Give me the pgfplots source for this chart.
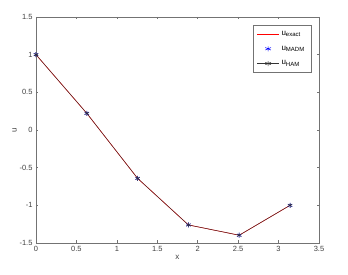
\documentclass[border=0pt]{standalone}
\usepackage{pgfplots}
\pgfplotsset{compat=1.18}
\usepackage{fontspec}
\setmainfont{Liberation Sans}
\definecolor{axgray}{gray}{0.45}
\begin{document}
\begin{tikzpicture}
\path[use as bounding box] (-36pt,-32pt) rectangle (312pt,243pt);
\begin{axis}[
  at={(0pt,0pt)}, anchor=south west,
  scale only axis, width=283pt, height=226pt,
  xmin=0, xmax=3.5, ymin=-1.5, ymax=1.5,
  xtick={0,0.5,...,3.5}, ytick={-1.5,-1,...,1.5},
  tick align=inside, tick pos=both,
  major tick length=2.5pt,
  axis line style={axgray, line width=0.5pt},
  every tick/.style={axgray, line width=0.5pt},
  tick label style={font=\fontsize{7.5}{8}\selectfont, text=black!75},
  /pgf/number format/assume math mode=true,
  yticklabel style={/pgf/number format/fixed},
  xlabel={x}, ylabel={u},
  label style={font=\fontsize{8}{9}\selectfont, text=black!75},
  xlabel style={yshift=3pt},
  ylabel style={yshift=-4pt},
  legend style={at={(1-8/283,1-8/226)}, anchor=north east, draw=axgray,
    font=\fontsize{8}{9}\selectfont, cells={anchor=west}, row sep=5pt,
    inner xsep=4pt, inner ysep=4pt},
  legend image post style={xscale=1.3},
  legend cell align=left,
]
\addplot[red, line width=0.6pt] coordinates {
 (0,1) (0.6283,0.2212) (1.2566,-0.6420) (1.8850,-1.2601) (2.5133,-1.3968) (3.1416,-1.0000)};
\addlegendentry{u\textsubscript{exact}}
\addplot[only marks, blue, mark=asterisk, mark size=2.5pt, mark options={line width=0.5pt}] coordinates {
 (0,1) (0.6283,0.2212) (1.2566,-0.6420) (1.8850,-1.2601) (2.5133,-1.3968) (3.1416,-1.0000)};
\addlegendentry{u\textsubscript{MADM}}
\addplot[black!80, line width=0.4pt, mark=asterisk, mark size=2.5pt, mark options={line width=0.5pt}] coordinates {
 (0,1) (0.6283,0.2212) (1.2566,-0.6420) (1.8850,-1.2601) (2.5133,-1.3968) (3.1416,-1.0000)};
\addlegendentry{u\textsubscript{HAM}}
\end{axis}
\end{tikzpicture}
\end{document}
